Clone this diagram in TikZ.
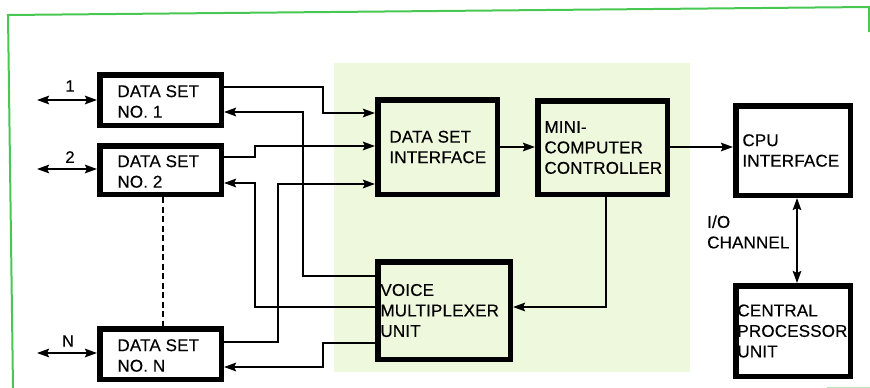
\documentclass[tikz,border=0pt]{standalone}
\usepackage{fontspec}
\setmainfont{Liberation Sans}[LetterSpace=1,FakeBold=0.35]
\usetikzlibrary{arrows.meta,calc}
\definecolor{framegreen}{RGB}{72,200,82}
\definecolor{shadegreen}{RGB}{237,248,220}
\begin{document}
\begin{tikzpicture}[x=1pt,y=-1pt,
  >={Stealth[length=12pt,width=8.5pt,inset=2pt]},
  blk/.style={draw=black,line width=5.5pt,inner sep=0pt},
  txt/.style={inner sep=0pt,anchor=west,align=left,font=\fontsize{17}{20.5}\selectfont},
  lbl/.style={inner sep=0pt,font=\fontsize{16.5}{19}\selectfont},
  wire/.style={line width=2.1pt},
  dashwire/.style={line width=1.6pt,dash pattern=on 6pt off 3.5pt}]
\useasboundingbox (0,0) rectangle (870,388);
% frame and shaded area
\fill[white] (0,0) rectangle (870,388);
\fill[shadegreen] (334,63) rectangle (690,372);
\draw[framegreen,line width=2pt] (13,388) -- (8,15) -- (869,7) -- (869,32);
\draw[framegreen!40,line width=1pt] (827,387) -- (870,387);
% blocks
\node[blk,minimum width=121.5pt,minimum height=50.5pt] (ds1) at (160.5,100) {};
\node[blk,minimum width=121.5pt,minimum height=48.5pt] (ds2) at (160.5,170) {};
\node[blk,minimum width=121.5pt,minimum height=50.5pt] (dsn) at (160.5,354) {};
\node[blk,minimum width=119.5pt,minimum height=94.5pt] (dsi) at (437.5,147) {};
\node[blk,minimum width=129.5pt,minimum height=93.5pt] (mcc) at (602.5,147.5) {};
\node[blk,fill=white,minimum width=114.5pt,minimum height=89.5pt] (cpu) at (793,150.5) {};
\node[blk,fill=white,minimum width=114.5pt,minimum height=90.5pt] (cp) at (793,331) {};
\node[blk,minimum width=132.5pt,minimum height=97.5pt] (vmu) at (444,310.5) {};
% texts
\node[txt] (ds1t) at ([xshift=20.25pt,yshift=-1.5pt]ds1.west) {DATA SET\\NO. 1};
\node[txt] (ds2t) at ([xshift=20.25pt,yshift=-1.5pt]ds2.west) {DATA SET\\NO. 2};
\node[txt] (dsnt) at ([xshift=20.25pt,yshift=-1.5pt]dsn.west) {DATA SET\\NO. N};
\node[txt] (dsit) at ([xshift=14.25pt]dsi.west) {DATA SET\\INTERFACE};
\node[txt] (mcct) at ([xshift=9.25pt]mcc.west) {MINI-\\COMPUTER\\CONTROLLER};
\node[txt] (cput) at ([xshift=9.25pt]cpu.west) {CPU\\INTERFACE};
\node[txt] (cpt) at ([xshift=4.25pt]cp.west) {CENTRAL\\PROCESSOR\\UNIT};
\node[txt] (vmut) at ([xshift=5.25pt]vmu.west) {VOICE\\MULTIPLEXER\\UNIT};
\node[txt] (ioch) at (707,232) {I/O\\CHANNEL};
\node[lbl] (l1) at (70,86) {1};
\node[lbl] (l2) at (70,157) {2};
\node[lbl] (ln) at (68,341) {N};
% external lines
\coordinate (e1) at (37,100);
\coordinate (e2) at (37,169);
\coordinate (en) at (37,353);
\draw[wire,<->] (e1) -- (ds1.west);
\draw[wire,<->] (e2) -- (ds2.west |- e2);
\draw[wire,<->] (en) -- (dsn.west |- en);
% data set wiring
\draw[wire,->] (ds1.east |- 0,87) -- (323,87) -- (323,113) -- (dsi.west |- 0,113);
\draw[wire,->] (vmu.west |- 0,276) -- (303,276) -- (303,112) -- (ds1.east |- 0,112);
\draw[wire,->] (ds2.east |- 0,157) -- (255,157) -- (255,146) -- (dsi.west |- 0,146);
\draw[wire,->] (vmu.west |- 0,307) -- (255,307) -- (255,183) -- (ds2.east |- 0,183);
\draw[wire,->] (dsn.east |- 0,342) -- (278,342) -- (278,184) -- (dsi.west |- 0,184);
\draw[wire,->] (vmu.west |- 0,343) -- (323,343) -- (323,367) -- (dsn.east |- 0,367);
\draw[dashwire] (ds2.south -| 163,0) -- (dsn.north -| 163,0);
% main chain
\draw[wire,->] (dsi.east |- 0,147) -- (mcc.west |- 0,147);
\draw[wire,->] (mcc.east |- 0,147) -- (cpu.west |- 0,147);
\draw[wire,->] (mcc.south -| 606,0) -- (606,307) -- (vmu.east |- 0,307);
\draw[wire,<->] (cpu.south -| 797,0) -- (cp.north -| 797,0);
\end{tikzpicture}
\end{document}
